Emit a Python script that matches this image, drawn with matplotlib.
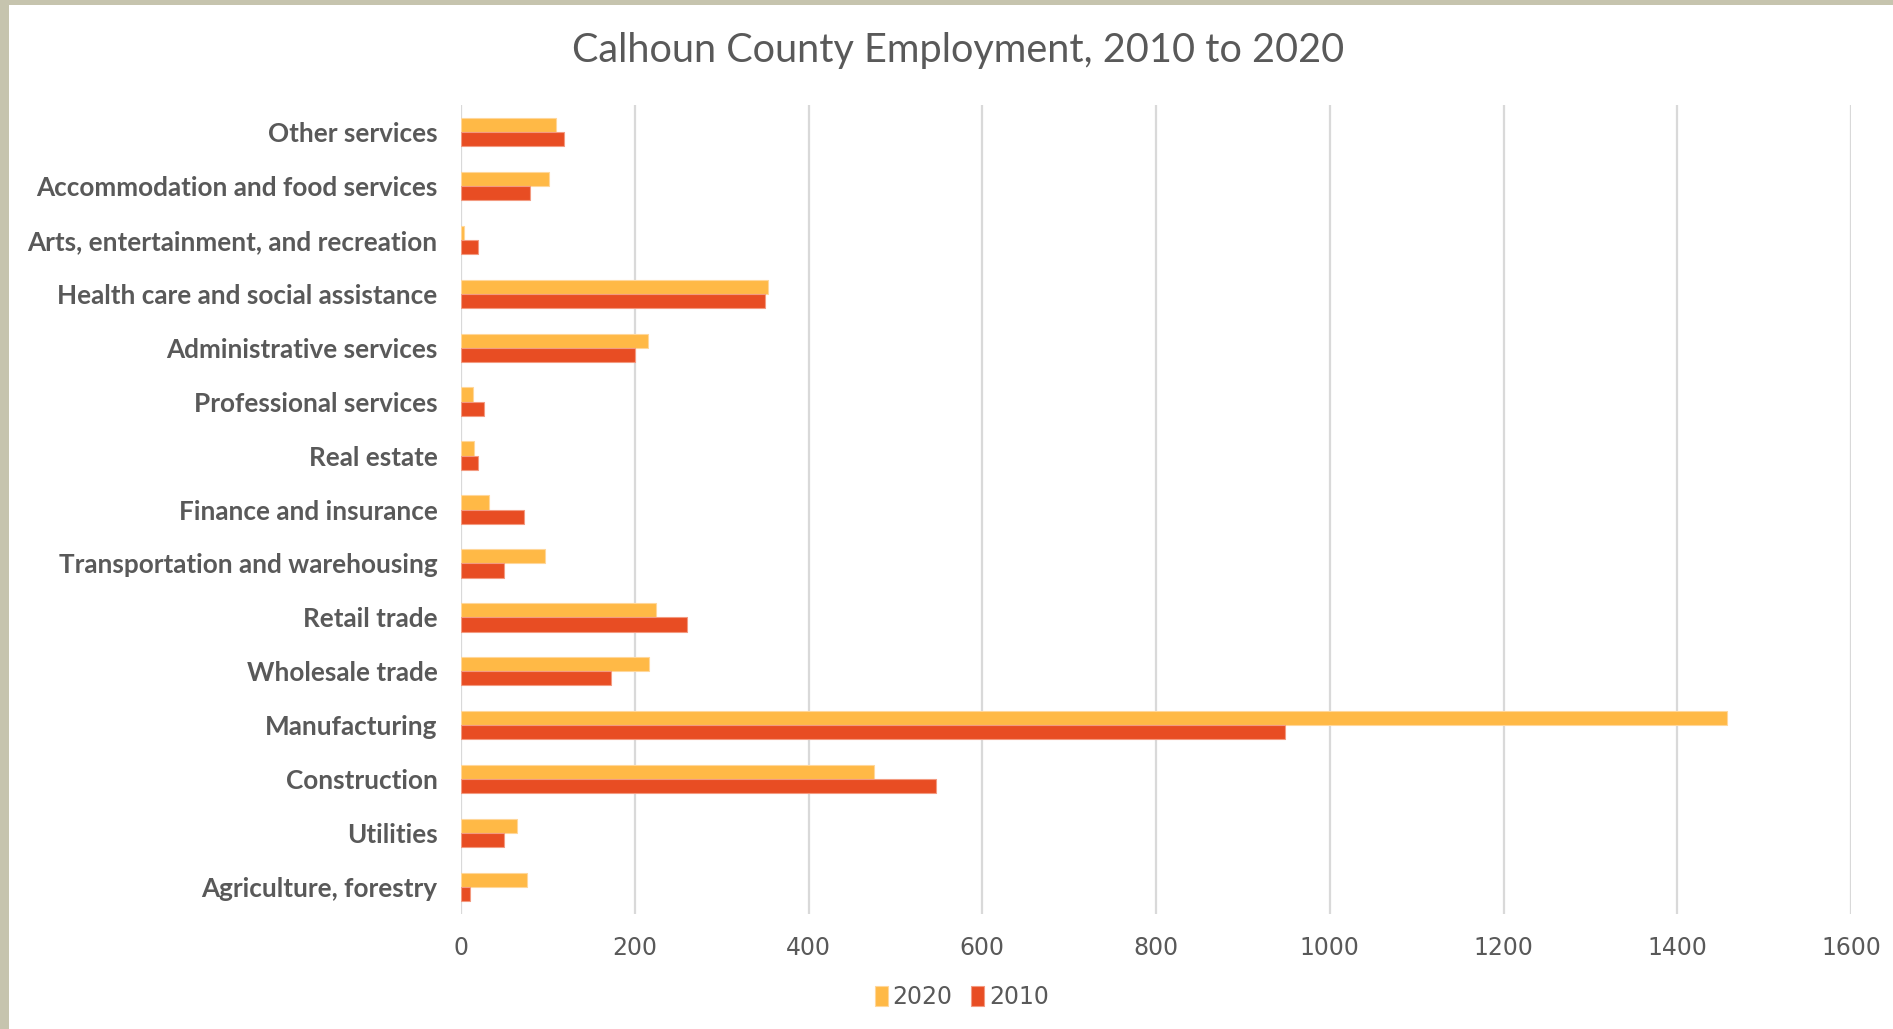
import matplotlib.pyplot as plt
import matplotlib.patches as mpatches
import numpy as np

# Data (bottom to top as drawn)
categories = ['Agriculture, forestry', 'Utilities', 'Construction', 'Manufacturing',
              'Wholesale trade', 'Retail trade', 'Transportation and warehousing',
              'Finance and insurance', 'Real estate', 'Professional services',
              'Administrative services', 'Health care and social assistance',
              'Arts, entertainment, and recreation', 'Accommodation and food services',
              'Other services']
values_2020 = [76, 65, 475, 1457, 216, 225, 97, 32, 15, 14, 215, 353, 4, 101, 109]
values_2010 = [10, 49, 547, 949, 173, 260, 50, 72, 20, 27, 200, 350, 20, 79, 118]
x_ticks = [0, 200, 400, 600, 800, 1000, 1200, 1400, 1600]

c2020 = '#FFB946'
c2010 = '#E84D23'
text_grey = '#595959'

fig = plt.figure(figsize=(18.93, 10.29), dpi=100)
fig.patch.set_facecolor('white')

# slide frame bands on top and left
fig.add_artist(mpatches.Rectangle((0, 1 - 5 / 1029), 1, 5 / 1029, transform=fig.transFigure,
                                  facecolor='#C6C4AE', edgecolor='none'))
fig.add_artist(mpatches.Rectangle((0, 0), 9 / 1893, 1, transform=fig.transFigure,
                                  facecolor='#C6C4AE', edgecolor='none'))

ax = fig.add_axes([461 / 1893, 1 - 914 / 1029, (1851 - 461) / 1893, (914 - 105) / 1029])

y = np.arange(len(categories))
h = 0.263
ax.barh(y + h / 2, values_2020, height=h, color=c2020, edgecolor='#FFD79A',
        linewidth=0.8, label='2020', zorder=3)
ax.barh(y - h / 2, values_2010, height=h, color=c2010, edgecolor='#F39A80',
        linewidth=0.8, label='2010', zorder=3)

ax.set_xlim(0, 1600)
ax.set_ylim(-0.5, len(categories) - 0.5)
ax.set_xticks(x_ticks)
ax.set_yticks(y)
ax.set_yticklabels(categories, fontsize=18.8, fontweight='bold', color=text_grey,
                   family=['Lato', 'DejaVu Sans'])
ax.tick_params(axis='y', length=0, pad=17)
ax.tick_params(axis='x', length=0, pad=16, labelsize=17, labelcolor=text_grey)
for lab in ax.get_xticklabels():
    lab.set_family(['Liberation Sans Narrow', 'DejaVu Sans'])

ax.grid(axis='x', color='#D9D9D9', linewidth=1.6, zorder=0)
for s in ax.spines.values():
    s.set_visible(False)

fig.text(0.506, 0.951, 'Calhoun County Employment, 2010 to 2020', ha='center', va='center',
         fontsize=28.5, color=text_grey, family=['Lato', 'DejaVu Sans'])

fig.legend(loc='center', bbox_to_anchor=(0.508, 0.031), ncol=2, frameon=False,
           handlelength=0.55, handleheight=0.9, handletextpad=0.2, columnspacing=0.8,
           prop={'family': ['Liberation Sans Narrow', 'DejaVu Sans'], 'size': 17},
           labelcolor=text_grey)

plt.savefig('out.png', dpi=100)
